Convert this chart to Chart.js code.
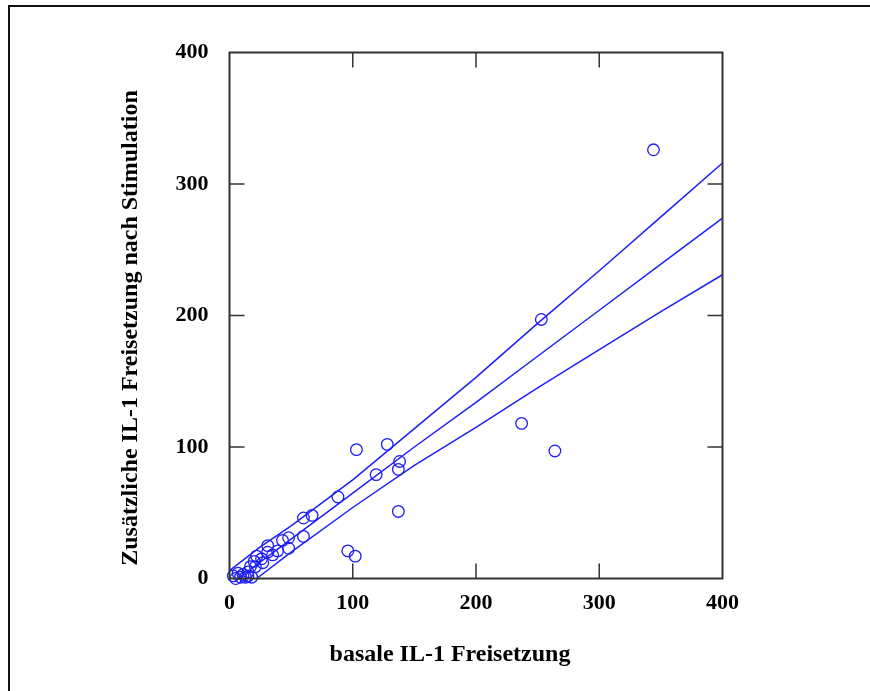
<!DOCTYPE html>
<html lang="de"><head>
  <meta charset="UTF-8">
  <title>IL-1 Freisetzung</title>
  <script src="https://cdn.jsdelivr.net/npm/chart.js"></script>
  <style>
    body { margin: 0; background: #fff; }
    canvas { display: block; }
  </style>
</head><body>
<canvas id="chart" width="870" height="691"></canvas>
<script>
  // Messwerte (basal, zusaetzlich nach Stimulation)
  const basal = [344, 253, 237, 264, 103, 128, 138, 137, 119, 137, 88, 67, 60, 60, 96, 102,
                 48, 43, 48, 31, 31, 39, 35, 22, 20, 27, 21, 17, 15, 7, 3, 9, 13, 15, 5, 11, 18, 26];
  const stimulated = [326, 197, 118, 97, 98, 102, 89, 83, 79, 51, 62, 48, 46, 32, 21, 17,
                 31, 29, 23, 25, 20, 21, 18, 17, 13, 12, 9, 9, 5, 4, 2, 1, 1, 2, 0, 3, 1, 15];

  // Regressionsgerade und Konfidenzgrenzen
  const fitX = [7, 50, 100, 150, 200, 250, 300, 350, 400];
  const fitY = [0, 30, 65, 100, 134, 169, 204, 239, 274];
  const upperX = [0, 25, 50, 100, 150, 200, 250, 300, 350, 400];
  const upperY = [6, 24, 40, 75, 114, 153, 194, 234, 275, 316];
  const lowerX = [22, 50, 100, 150, 200, 250, 300, 350, 400];
  const lowerY = [0, 20, 54, 86, 115, 145, 174, 203, 231];

  const tickValues = [0, 100, 200, 300, 400];
  const xTitle = 'basale IL-1 Freisetzung';
  const yTitle = 'Zusätzliche IL-1 Freisetzung nach Stimulation';

  const blue = '#1f1ff5';
  const axisColor = '#333333';
  const serif = '"Liberation Serif", "Times New Roman", serif';

  const pairs = (xs, ys) => xs.map((x, i) => ({ x: x, y: ys[i] }));

  function lineSet(xs, ys) {
    return {
      type: 'line',
      data: pairs(xs, ys),
      borderColor: blue,
      borderWidth: 1.5,
      pointRadius: 0,
      fill: false,
      tension: 0
    };
  }

  // frame, plot box, inward ticks and axis titles
  const decor = {
    id: 'decor',
    afterDraw(chart) {
      const ctx = chart.ctx;
      const a = chart.chartArea;
      const xs = chart.scales.x, ys = chart.scales.y;
      ctx.save();
      ctx.strokeStyle = '#111';
      ctx.lineWidth = 2;
      ctx.beginPath();
      ctx.moveTo(9, 691);
      ctx.lineTo(9, 6);
      ctx.lineTo(870, 6);
      ctx.stroke();

      ctx.strokeStyle = axisColor;
      ctx.lineWidth = 2;
      ctx.strokeRect(a.left, a.top, a.right - a.left, a.bottom - a.top);
      ctx.lineWidth = 1.5;
      ctx.beginPath();
      [100, 200, 300].forEach(v => {
        const px = xs.getPixelForValue(v);
        ctx.moveTo(px, a.bottom); ctx.lineTo(px, a.bottom - 15);
        ctx.moveTo(px, a.top); ctx.lineTo(px, a.top + 15);
        const py = ys.getPixelForValue(v);
        ctx.moveTo(a.left, py); ctx.lineTo(a.left + 15, py);
        ctx.moveTo(a.right, py); ctx.lineTo(a.right - 15, py);
      });
      ctx.stroke();

      ctx.fillStyle = '#000';
      ctx.font = 'bold 24px ' + serif;
      ctx.textAlign = 'center';
      ctx.textBaseline = 'middle';
      ctx.fillText(xTitle, 450, 655);
      ctx.translate(131, 328);
      ctx.rotate(-Math.PI / 2);
      ctx.fillText(yTitle, 0, 0);
      ctx.restore();
    }
  };

  const ctx = document.getElementById('chart').getContext('2d');
  new Chart(ctx, {
    type: 'scatter',
    data: {
      datasets: [
        {
          data: pairs(basal, stimulated),
          pointStyle: 'circle',
          pointRadius: 5.8,
          pointBorderWidth: 1.3,
          pointBorderColor: blue,
          pointBackgroundColor: 'rgba(0,0,0,0)',
          clip: false
        },
        lineSet(fitX, fitY),
        lineSet(upperX, upperY),
        lineSet(lowerX, lowerY)
      ]
    },
    options: {
      responsive: false,
      animation: false,
      layout: { padding: { left: 0, top: 52.5, right: 147.5, bottom: 0 } },
      plugins: { legend: { display: false }, tooltip: { enabled: false } },
      scales: {
        x: {
          type: 'linear', min: 0, max: 400,
          afterBuildTicks: s => { s.ticks = tickValues.map(v => ({ value: v })); },
          afterFit: s => { s.height = 112.5; },
          grid: { display: false, drawTicks: false },
          border: { display: false },
          ticks: { color: '#000', padding: 12, maxRotation: 0, font: { family: serif, size: 22, weight: 'bold' } }
        },
        y: {
          type: 'linear', min: 0, max: 400,
          afterBuildTicks: s => { s.ticks = tickValues.map(v => ({ value: v })); },
          afterFit: s => { s.width = 229.5; },
          grid: { display: false, drawTicks: false },
          border: { display: false },
          ticks: { color: '#000', padding: 21, font: { family: serif, size: 22, weight: 'bold' } }
        }
      }
    },
    plugins: [decor]
  });
</script>
</body></html>
